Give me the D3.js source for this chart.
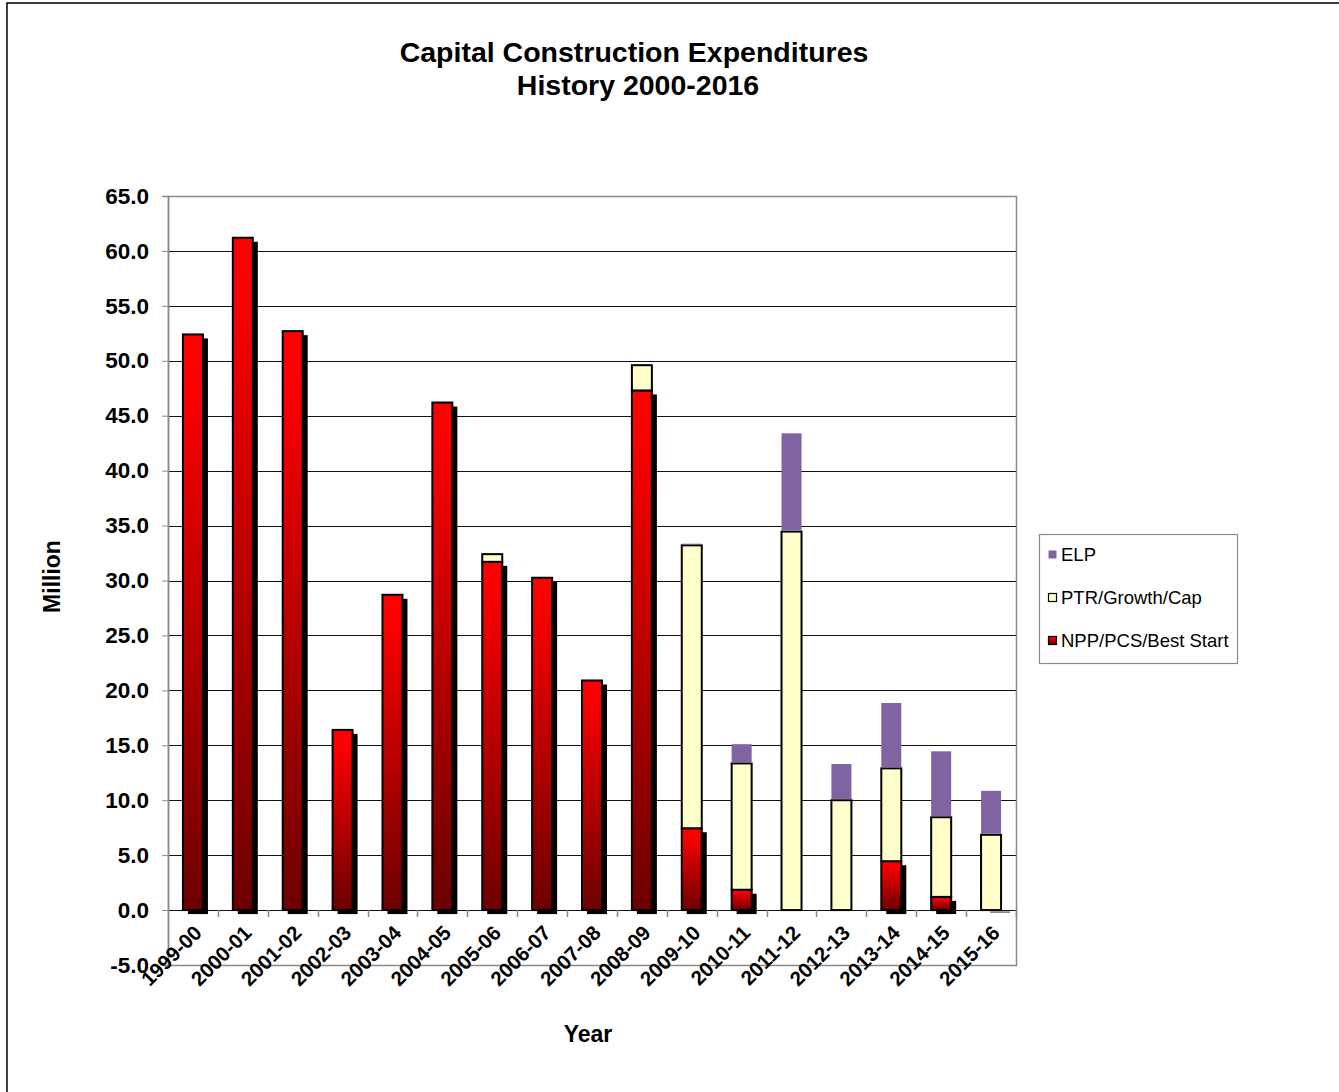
<!DOCTYPE html>
<html>
<head>
<meta charset="utf-8">
<script src="https://cdn.jsdelivr.net/npm/d3@7"></script>
<style>
  html, body { margin: 0; padding: 0; background: #fff; }
  svg { display: block; font-family: "Liberation Sans", Arial, sans-serif; }
</style>
</head>
<body>
<svg id="chart" width="1339" height="1092"></svg>
<script>
// Fiscal years
const years = ["1999-00","2000-01","2001-02","2002-03","2003-04","2004-05","2005-06","2006-07",
  "2007-08","2008-09","2009-10","2010-11","2011-12","2012-13","2013-14","2014-15","2015-16"];

// Expenditures in millions, by program
const nppPcsBestStart = [52.4, 61.2, 52.7, 16.4, 28.7, 46.2, 31.7, 30.25, 20.9, 47.3, 7.45, 1.85, 0, 0, 4.45, 1.2, -0.05];
const ptrGrowthCap    = [0, 0, 0, 0, 0, 0, 0.7, 0, 0, 2.3, 25.75, 11.5, 34.45, 10.0, 8.45, 7.25, 6.85];
const elp             = [0, 0, 0, 0, 0, 0, 0, 0, 0, 0, 0.15, 1.75, 8.95, 3.3, 5.95, 6.0, 4.0];

const yTicks = d3.range(-5, 65.01, 5);

const svg = d3.select("#chart");

// outer frame
svg.append("rect").attr("x", 7).attr("y", 3).attr("width", 1400).attr("height", 1200)
  .attr("fill", "none").attr("stroke", "#000").attr("stroke-width", 1.5);

const plot = { left: 168, right: 1016, top: 196, bottom: 965 };

const x = d3.scaleBand().domain(years).range([plot.left, plot.right]).paddingInner(0).paddingOuter(0);
const y = d3.scaleLinear().domain([-5, 65]).range([plot.bottom, plot.top]);

const defs = svg.append("defs");
const grad = defs.append("linearGradient").attr("id", "redGrad")
  .attr("x1", 0).attr("y1", 0).attr("x2", 0).attr("y2", 1);
grad.append("stop").attr("offset", 0).attr("stop-color", "#ff0000");
grad.append("stop").attr("offset", 0.08).attr("stop-color", "#fc0000");
grad.append("stop").attr("offset", 1).attr("stop-color", "#6c0000");

// gridlines
svg.append("g").selectAll("line").data(yTicks.filter(t => t > -5 && t < 65)).join("line")
  .attr("x1", plot.left).attr("x2", plot.right)
  .attr("y1", d => Math.round(y(d)) + 0.5).attr("y2", d => Math.round(y(d)) + 0.5)
  .attr("stroke", "#111").attr("stroke-width", 1);

// plot border
svg.append("rect").attr("x", plot.left + 0.5).attr("y", plot.top + 0.5)
  .attr("width", plot.right - plot.left).attr("height", plot.bottom - plot.top)
  .attr("fill", "none").attr("stroke", "#8a8a8a").attr("stroke-width", 1.5);

// y axis (plain hyphen for negatives)
const fmt = d => d.toFixed(1);
const yAxis = d3.axisLeft(y).tickValues(yTicks).tickFormat(fmt).tickSize(6).tickPadding(13);
const gy = svg.append("g").attr("transform", `translate(${plot.left},0)`).call(yAxis);
gy.select(".domain").attr("stroke", "#8a8a8a").attr("stroke-width", 1.5);
gy.selectAll(".tick line").attr("stroke", "#8a8a8a");
gy.selectAll("text").attr("font-size", 22.5).attr("font-weight", "bold").attr("fill", "#000")
  .attr("font-family", "Liberation Sans, Arial, sans-serif");

// ticks along the zero line
svg.append("g").selectAll("line").data(years).join("line")
  .attr("x1", d => Math.round(x(d) + x.bandwidth()) + 0.5)
  .attr("x2", d => Math.round(x(d) + x.bandwidth()) + 0.5)
  .attr("y1", y(0)).attr("y2", y(0) + 7)
  .attr("stroke", "#8a8a8a").attr("stroke-width", 1.5);

// category labels
svg.append("g").selectAll("text").data(years).join("text")
  .attr("transform", d => `translate(${x(d) + x.bandwidth() / 2 + 10},${y(0) + 24}) rotate(-45)`)
  .attr("text-anchor", "end")
  .attr("font-size", 20.5).attr("font-weight", "bold")
  .text(d => d);

const bw = 20;
const bx = d => x(d) + x.bandwidth() / 2 - bw / 2;
const sh = 4;

const rows = years.map((yr, i) => ({ yr, red: nppPcsBestStart[i], yel: ptrGrowthCap[i], pur: elp[i] }));

// shadows of the NPP/PCS/Best Start bars
svg.append("g").selectAll("rect").data(rows.filter(r => r.red > 0)).join("rect")
  .attr("x", r => bx(r.yr) + sh + 1).attr("y", r => y(r.red) + sh)
  .attr("width", bw).attr("height", r => y(0) - y(r.red))
  .attr("fill", "#000");
svg.append("g").selectAll("line").data(rows.filter(r => r.red < 0)).join("line")
  .attr("x1", r => bx(r.yr) + sh + 5).attr("x2", r => bx(r.yr) + bw + sh + 5)
  .attr("y1", r => y(r.red) + 1.5).attr("y2", r => y(r.red) + 1.5)
  .attr("stroke", "#777").attr("stroke-width", 1.5);

// NPP/PCS/Best Start
svg.append("g").selectAll("rect").data(rows.filter(r => r.red > 0)).join("rect")
  .attr("x", r => bx(r.yr)).attr("y", r => y(r.red))
  .attr("width", bw).attr("height", r => y(0) - y(r.red))
  .attr("fill", "url(#redGrad)").attr("stroke", "#000").attr("stroke-width", 2);

// PTR/Growth/Cap
svg.append("g").selectAll("rect").data(rows.filter(r => r.yel > 0)).join("rect")
  .attr("x", r => bx(r.yr)).attr("y", r => y(Math.max(r.red, 0) + r.yel))
  .attr("width", bw).attr("height", r => y(Math.max(r.red, 0)) - y(Math.max(r.red, 0) + r.yel))
  .attr("fill", "#ffffcc").attr("stroke", "#000").attr("stroke-width", 2);

// ELP
svg.append("g").selectAll("rect").data(rows.filter(r => r.pur > 0)).join("rect")
  .attr("x", r => bx(r.yr)).attr("y", r => y(Math.max(r.red, 0) + r.yel + r.pur))
  .attr("width", bw).attr("height", r => y(Math.max(r.red, 0) + r.yel) - y(Math.max(r.red, 0) + r.yel + r.pur) - 1)
  .attr("fill", "#8064a2");

// titles
svg.append("text").attr("x", 634).attr("y", 62).attr("text-anchor", "middle")
  .attr("font-size", 28.5).attr("font-weight", "bold").text("Capital Construction Expenditures");
svg.append("text").attr("x", 638).attr("y", 95).attr("text-anchor", "middle")
  .attr("font-size", 28.5).attr("font-weight", "bold").text("History 2000-2016");
svg.append("text").attr("transform", `translate(60,${(plot.top + plot.bottom) / 2 - 4}) rotate(-90)`)
  .attr("text-anchor", "middle").attr("font-size", 23).attr("font-weight", "bold").text("Million");
svg.append("text").attr("x", 588).attr("y", 1042).attr("text-anchor", "middle")
  .attr("font-size", 23).attr("font-weight", "bold").text("Year");

// legend
const legendItems = [
  { label: "ELP", fill: "#8064a2", stroke: "none" },
  { label: "PTR/Growth/Cap", fill: "#ffffcc", stroke: "#000" },
  { label: "NPP/PCS/Best Start", fill: "url(#redGrad)", stroke: "#000" }
];
const lg = svg.append("g");
lg.append("rect").attr("x", 1039.5).attr("y", 534.5).attr("width", 198).attr("height", 129)
  .attr("fill", "#fff").attr("stroke", "#8a8a8a").attr("stroke-width", 1.2);
const li = lg.selectAll("g").data(legendItems).join("g")
  .attr("transform", (d, i) => `translate(1048,${550 + i * 43})`);
li.append("rect").attr("x", 0.5).attr("y", 0.5).attr("width", 8).attr("height", 8)
  .attr("fill", d => d.fill).attr("stroke", d => d.stroke).attr("stroke-width", 1.2);
li.append("text").attr("x", 13).attr("y", 10.5).attr("font-size", 18.5).text(d => d.label);
</script>
</body>
</html>
